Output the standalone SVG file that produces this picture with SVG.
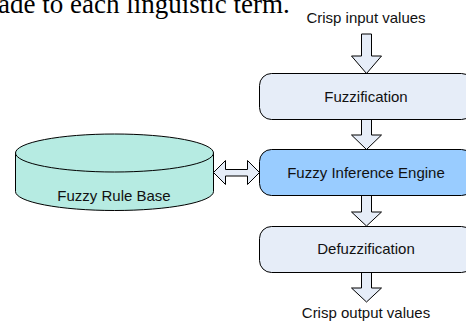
<svg xmlns="http://www.w3.org/2000/svg" width="466" height="323" viewBox="0 0 466 323">
<style>
.lbl{font-family:"Liberation Sans",Arial,sans-serif;font-size:15px;fill:#111;text-anchor:middle}
.box{fill:#e6edf8;stroke:#000;stroke-width:1}
.arr{fill:#e6edf8;stroke:#000;stroke-width:1}
</style>
<rect width="466" height="323" fill="#fff"/>
<text x="-2" y="13" font-family="Liberation Serif,'Times New Roman',serif" font-size="27" fill="#000">ade to each linguistic term.</text>
<text class="lbl" x="366" y="23">Crisp input values</text>
<g id="connectors">
<path class="arr" d="M361.5,34 H371.5 V56 H381.5 L366.5,73.5 L351.5,56 H361.5 Z"/>
<path class="arr" d="M361.5,119.5 H371.5 V135 H381.5 L366.5,149.5 L351.5,135 H361.5 Z"/>
<path class="arr" d="M361.5,195.5 H371.5 V212 H381.5 L366.5,226 L351.5,212 H361.5 Z"/>
<path class="arr" d="M361.5,272.5 H371.5 V288 H381.5 L366.5,302 L351.5,288 H361.5 Z"/>
<path class="arr" d="M213.5,172.5 L225.5,160.5 V169.5 H247.5 V160.5 L259.5,172.5 L247.5,184.5 V176 H225.5 V184.5 Z"/>
</g>
<g id="fuzzification">
<rect class="box" x="259.5" y="73.5" width="214" height="46" rx="12"/>
<text class="lbl" x="366" y="102">Fuzzification</text>
</g>
<g id="inference">
<rect class="box" x="259.5" y="149.5" width="214" height="46" rx="12" style="fill:#99ccff"/>
<text class="lbl" x="366" y="177.5">Fuzzy Inference Engine</text>
</g>
<g id="defuzzification">
<rect class="box" x="259.5" y="226.5" width="214" height="46" rx="12"/>
<text class="lbl" x="366" y="254">Defuzzification</text>
</g>
<text class="lbl" x="366" y="318">Crisp output values</text>
<g id="rulebase">
<path d="M15.5,153 V191.5 A99,19 0 0 0 213.5,191.5 V153 Z" fill="#b6ebe2" stroke="#000"/>
<ellipse cx="114.5" cy="153" rx="99" ry="19" fill="#b6ebe2" stroke="#000"/>
<text class="lbl" x="114" y="201">Fuzzy Rule Base</text>
</g>
</svg>
